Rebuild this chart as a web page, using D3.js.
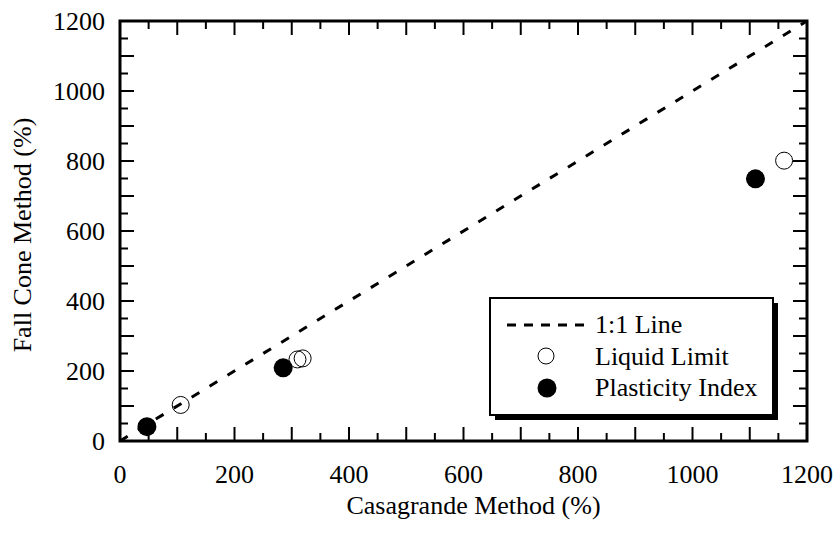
<!DOCTYPE html>
<html>
<head>
<meta charset="utf-8">
<script src="https://cdn.jsdelivr.net/npm/d3@7"></script>
<style>
  body { margin: 0; background: #fff; }
  svg { display: block; }
  text { font-family: "Liberation Serif", "Times New Roman", serif; }
</style>
</head>
<body>
<svg id="chart"></svg>
<script>
// Data
const liquidLimit = [[106, 103], [310, 233], [319, 236], [1160, 801]];
const plasticityIndex = [[47, 41], [285, 209], [1110, 749]];
const oneToOne = [[0, 0], [1200, 1200]];
const tickLabels = [0, 200, 400, 600, 800, 1000, 1200];
const legendItems = ["1:1 Line", "Liquid Limit", "Plasticity Index"];

const width = 837, height = 533;
const margin = { left: 120, right: 30, top: 21, bottom: 92 };
const fs = 26;

const svg = d3.select("#chart")
  .attr("width", width)
  .attr("height", height);

const x = d3.scaleLinear().domain([0, 1200]).range([margin.left, width - margin.right]);
const y = d3.scaleLinear().domain([0, 1200]).range([height - margin.bottom, margin.top]);

const x0 = x(0), x1 = x(1200), y0 = y(0), y1 = y(1200);

// ticks on all four sides, pointing in
const minor = d3.range(50, 1200, 100);
const major = d3.range(100, 1200, 100);
const tickG = svg.append("g").attr("stroke", "#000").attr("stroke-width", 2);

function sideTicks(vals, len) {
  vals.forEach(v => {
    tickG.append("line").attr("x1", x(v)).attr("x2", x(v)).attr("y1", y0).attr("y2", y0 - len);
    tickG.append("line").attr("x1", x(v)).attr("x2", x(v)).attr("y1", y1).attr("y2", y1 + len);
    tickG.append("line").attr("y1", y(v)).attr("y2", y(v)).attr("x1", x0).attr("x2", x0 + len);
    tickG.append("line").attr("y1", y(v)).attr("y2", y(v)).attr("x1", x1).attr("x2", x1 - len);
  });
}
sideTicks(minor, 8);
sideTicks(major, 14);

// 1:1 line
const line = d3.line().x(d => x(d[0])).y(d => y(d[1]));
svg.append("path")
  .datum(oneToOne)
  .attr("d", line)
  .attr("fill", "none")
  .attr("stroke", "#000")
  .attr("stroke-width", 3)
  .attr("stroke-dasharray", "9,12");

// frame
svg.append("rect")
  .attr("x", x0).attr("y", y1)
  .attr("width", x1 - x0).attr("height", y0 - y1)
  .attr("fill", "none").attr("stroke", "#000").attr("stroke-width", 3);

// points
svg.append("g").selectAll("circle")
  .data(liquidLimit)
  .join("circle")
  .attr("cx", d => x(d[0])).attr("cy", d => y(d[1]))
  .attr("r", 8.5)
  .attr("fill", "none").attr("stroke", "#000").attr("stroke-width", 1);

svg.append("g").selectAll("circle")
  .data(plasticityIndex)
  .join("circle")
  .attr("cx", d => x(d[0])).attr("cy", d => y(d[1]))
  .attr("r", 9.5)
  .attr("fill", "#000");

// tick labels
svg.append("g").selectAll("text")
  .data(tickLabels)
  .join("text")
  .attr("x", d => x(d)).attr("y", y0 + 42)
  .attr("text-anchor", "middle")
  .attr("font-size", fs)
  .text(d => d);

svg.append("g").selectAll("text")
  .data(tickLabels)
  .join("text")
  .attr("x", x0 - 15).attr("y", d => y(d) + 9)
  .attr("text-anchor", "end")
  .attr("font-size", fs)
  .text(d => d);

// axis titles
svg.append("text")
  .attr("x", (x0 + x1) / 2 + 10).attr("y", y0 + 73)
  .attr("text-anchor", "middle")
  .attr("font-size", fs)
  .text("Casagrande Method (%)");

svg.append("text")
  .attr("transform", `translate(31,${(y0 + y1) / 2 + 4}) rotate(-90)`)
  .attr("text-anchor", "middle")
  .attr("font-size", fs)
  .text("Fall Cone Method (%)");

// legend
const lg = svg.append("g");
lg.append("rect").attr("x", 495).attr("y", 303).attr("width", 283).attr("height", 117).attr("fill", "#000");
lg.append("rect").attr("x", 490).attr("y", 298).attr("width", 283).attr("height", 117)
  .attr("fill", "#fff").attr("stroke", "#000").attr("stroke-width", 2);

lg.append("line").attr("x1", 507).attr("x2", 587).attr("y1", 325).attr("y2", 325)
  .attr("stroke", "#000").attr("stroke-width", 3).attr("stroke-dasharray", "9,8");
lg.append("circle").attr("cx", 546).attr("cy", 356).attr("r", 8)
  .attr("fill", "none").attr("stroke", "#000").attr("stroke-width", 1);
lg.append("circle").attr("cx", 547).attr("cy", 388).attr("r", 9.5).attr("fill", "#000");

lg.selectAll("text.item")
  .data(legendItems)
  .join("text")
  .attr("class", "item")
  .attr("x", 595).attr("y", (d, i) => 333 + i * 31.5)
  .attr("font-size", fs)
  .text(d => d);
</script>
</body>
</html>
